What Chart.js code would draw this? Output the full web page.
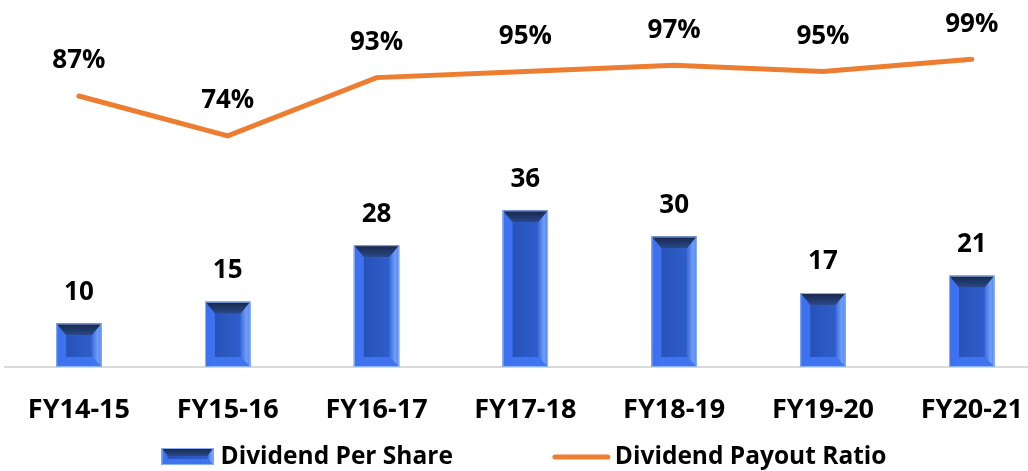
<!DOCTYPE html>
<html>
<head>
<meta charset="utf-8">
<script src="https://cdn.jsdelivr.net/npm/chart.js@4.4.1/dist/chart.umd.min.js"></script>
<style>
  html, body { margin: 0; padding: 0; overflow: hidden; background: #fff; }
  canvas { display: block; }
</style>
</head>
<body>
<canvas id="myChart" width="1050" height="471"></canvas>
<script>
const years = ["FY14-15", "FY15-16", "FY16-17", "FY17-18", "FY18-19", "FY19-20", "FY20-21"];
const dividendPerShare = [10, 15, 28, 36, 30, 17, 21];
const payoutRatio = [87, 74, 93, 95, 97, 95, 99];

const FONT = "'Open Sans', sans-serif";
const ORANGE = "#ED7D31";

function poly(ctx, pts, fill) {
	ctx.beginPath();
	ctx.moveTo(pts[0][0], pts[0][1]);
	for (let i = 1; i < pts.length; i++) ctx.lineTo(pts[i][0], pts[i][1]);
	ctx.closePath();
	ctx.fillStyle = fill;
	ctx.fill();
}

// bevelled blue block, like the office "3D" bar style
function drawBevel(ctx, l, t, w, h, bev, topBev) {
	const r = l + w, b = t + h;
	const e = Math.min(bev, h / 2, w / 2);
	const et = Math.min(topBev, h / 2);
	ctx.fillStyle = "#3b6fe9";
	ctx.fillRect(l, t, w, h);

	let g = ctx.createLinearGradient(0, t, 0, t + et);
	g.addColorStop(0, "#172646");
	g.addColorStop(1, "#2a4a8c");
	poly(ctx, [[l, t], [r, t], [r - e, t + et], [l + e, t + et]], g);

	poly(ctx, [[l, t], [l + e, t + et], [l + e, b - e], [l, b]], "#3d71ef");

	g = ctx.createLinearGradient(r - e, 0, r, 0);
	g.addColorStop(0, "#3b69d6");
	g.addColorStop(0.6, "#6f9ef8");
	g.addColorStop(1, "#4f84f2");
	poly(ctx, [[r, t], [r, b], [r - e, b - e], [r - e, t + et]], g);

	poly(ctx, [[l, b], [r, b], [r - e, b - e], [l + e, b - e]], "#3f74f0");

	g = ctx.createLinearGradient(l + e, 0, r - e, 0);
	g.addColorStop(0, "#2852b8");
	g.addColorStop(1, "#2e5dca");
	ctx.fillStyle = g;
	ctx.fillRect(l + e, t + et, w - 2 * e, h - et - e);

	ctx.strokeStyle = "#8fb2f3";
	ctx.lineWidth = 1;
	ctx.strokeRect(l + 0.5, t + 0.5, w - 1, h - 1);
}

const bevelBars = {
	id: "bevelBars",
	beforeDatasetDraw(chart, args) {
		if (args.index !== 0) return;
		const ctx = chart.ctx;
		ctx.save();
		args.meta.data.forEach(el => {
			const p = el.getProps(["x", "y", "base", "width"], true);
			drawBevel(ctx, p.x - p.width / 2, p.y, p.width, p.base - p.y, 10, 12);
		});
		ctx.restore();
		return false;
	}
};

const valueLabels = {
	id: "valueLabels",
	afterDatasetsDraw(chart) {
		const ctx = chart.ctx;
		ctx.save();
		ctx.fillStyle = "#000";
		ctx.textAlign = "center";
		ctx.textBaseline = "middle";
		ctx.font = "bold 26px " + FONT;
		chart.getDatasetMeta(0).data.forEach((el, i) => {
			ctx.fillText(String(dividendPerShare[i]), el.x, el.y - 31);
		});
		chart.getDatasetMeta(1).data.forEach((el, i) => {
			ctx.fillText(payoutRatio[i] + "%", el.x, el.y - 35);
		});
		ctx.restore();
	}
};

const customLegend = {
	id: "customLegend",
	afterDraw(chart) {
		const ctx = chart.ctx;
		ctx.save();
		ctx.font = "bold 24.5px " + FONT;
		ctx.fillStyle = "#000";
		ctx.textBaseline = "middle";
		const t1 = chart.data.datasets[0].label, t2 = chart.data.datasets[1].label;
		const w1 = 52 + 7 + ctx.measureText(t1).width;
		const w2 = 57 + 5 + ctx.measureText(t2).width;
		const gap = 100;
		let x = chart.width / 2 - 1 - (w1 + gap + w2) / 2;
		const y = 457;
		drawBevel(ctx, x, y - 9, 52, 17, 6, 8);
		ctx.fillStyle = "#000";
		ctx.fillText(t1, x + 59, y);
		x += w1 + gap;
		ctx.strokeStyle = ORANGE;
		ctx.lineWidth = 5;
		ctx.lineCap = "round";
		ctx.beginPath();
		ctx.moveTo(x + 2, y);
		ctx.lineTo(x + 55, y);
		ctx.stroke();
		ctx.fillText(t2, x + 62, y);
		ctx.restore();
	}
};

new Chart(document.getElementById("myChart"), {
	type: "bar",
	data: {
		labels: years,
		datasets: [
			{
				label: "Dividend Per Share",
				data: dividendPerShare,
				backgroundColor: "#2f5fcc",
				categoryPercentage: 1,
				barPercentage: 0.305,
				yAxisID: "y",
				order: 2
			},
			{
				type: "line",
				label: "Dividend Payout Ratio",
				data: payoutRatio,
				borderColor: ORANGE,
				borderWidth: 5,
				borderCapStyle: "round",
				borderJoinStyle: "miter",
				pointRadius: 0,
				tension: 0,
				yAxisID: "y1",
				order: 1
			}
		]
	},
	plugins: [bevelBars, valueLabels, customLegend],
	options: {
		responsive: false,
		animation: false,
		events: [],
		layout: {
			padding: { left: 4.5, right: 2.5, top: 19, bottom: 0 }
		},
		plugins: {
			legend: { display: false },
			tooltip: { enabled: false }
		},
		scales: {
			x: {
				grid: { display: false, drawTicks: false },
				border: { display: true, color: "#d9d9d9", width: 2 },
				ticks: {
					color: "#000",
					padding: 27,
					font: { family: FONT, size: 27, weight: "bold" }
				},
				afterFit(scale) { scale.height = 104; }
			},
			y: { display: false, min: 0, max: 80 },
			y1: { display: false, min: -1.3, max: 112.1 }
		}
	}
});
</script>
</body>
</html>
